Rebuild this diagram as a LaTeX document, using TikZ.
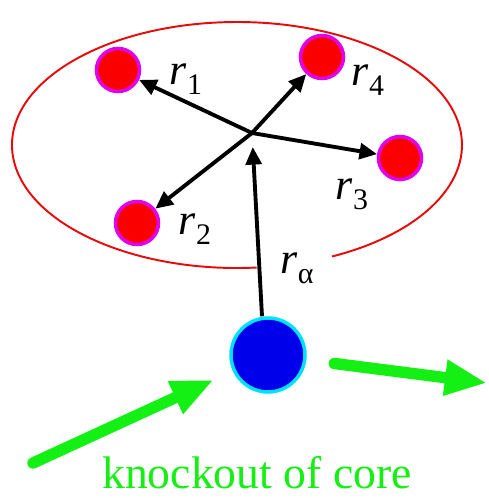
\documentclass[tikz,border=0pt]{standalone}
\usepackage{fontspec}
\setmainfont{Liberation Serif}
\usetikzlibrary{arrows.meta}

\definecolor{shellred}{RGB}{230,10,10}
\definecolor{dotred}{RGB}{250,0,0}
\definecolor{dotrim}{RGB}{225,0,235}
\definecolor{coreblue}{RGB}{0,0,235}
\definecolor{corerim}{RGB}{0,225,255}
\definecolor{beamgreen}{RGB}{20,240,20}

\newcommand{\vecr}[1]{\textit{r}\raisebox{-5.5pt}{\fontsize{17}{17}\selectfont #1}}

\begin{document}
\begin{tikzpicture}[
  x=0.02cm, y=-0.02cm,
  nucleon/.style={circle, draw=dotrim, fill=dotred, line width=2pt,
    inner sep=0pt, minimum size=0.86cm},
  corenode/.style={circle, draw=corerim, fill=coreblue, line width=2pt,
    inner sep=0pt, minimum size=1.48cm},
  vec/.style={-{Triangle[length=10pt,width=9pt]}, line width=2.2pt},
  beam/.style={-{Triangle[length=24pt,width=19pt]}, line width=6.5pt,
    line cap=round, beamgreen},
  lab/.style={font=\fontsize{25}{28}\selectfont, inner sep=1pt},
]
\useasboundingbox (0,0) rectangle (489,498);

% cluster boundary, open where r_alpha crosses it
\draw[shellred, line width=1.1pt] (237,145) ++(85:225 and 123)
  arc[start angle=85, end angle=425, x radius=225, y radius=123];

% nucleons of the cluster
\coordinate (c) at (252,133);
\node[nucleon] (n1) at (118,70) {};
\node[nucleon] (n2) at (137,223) {};
\node[nucleon] (n3) at (400,158) {};
\node[nucleon] (n4) at (322,57) {};

% core
\node[corenode] (core) at (268,355) {};

% labels
\node[lab] (l1) at (186,79) {\vecr{1}};
\node[lab] (l2) at (195,229) {\vecr{2}};
\node[lab] (l3) at (352,194) {\vecr{3}};
\node[lab] (l4) at (368,80) {\vecr{4}};
\node[lab] (la) at (297,268) {\vecr{α}};

% relative vectors
\draw[vec] (c) -- (n1);
\draw[vec] (c) -- (n2);
\draw[vec] (c) -- (n3);
\draw[vec] (c) -- (n4);
\draw[vec, shorten >=8] (core.north) ++(-6,0) coordinate (cb) (cb) -- (c);

% knockout beams
\coordinate (inc) at (33,463);
\coordinate (out) at (487,383);
\draw[beam, shorten >=12] (inc) -- (core);
\draw[beam, shorten <=16] (core) -- (out);

\node[font=\fontsize{26}{30}\selectfont, text=beamgreen, inner sep=0pt, anchor=base] (title) at (257,488) {knockout of core};

\end{tikzpicture}
\end{document}
